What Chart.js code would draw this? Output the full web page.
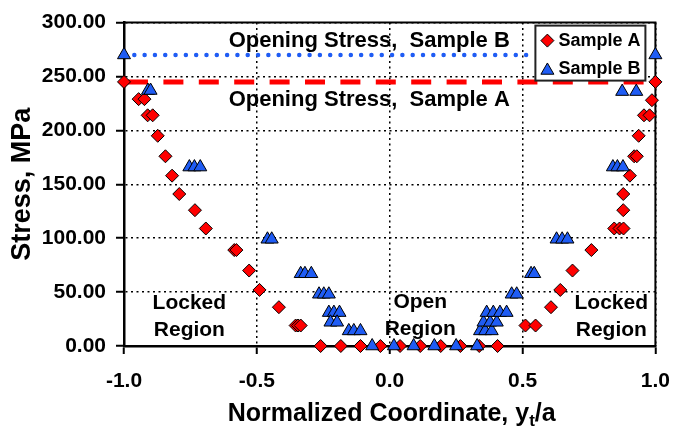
<!DOCTYPE html>
<html>
<head>
<meta charset="utf-8">
<script src="https://cdn.jsdelivr.net/npm/chart.js@4.4.1/dist/chart.umd.min.js"></script>
<style>
html,body{margin:0;padding:0;background:#fff;}
#wrap{width:685px;height:433px;}
</style>
</head>
<body>
<div id="wrap"><canvas id="c" width="685" height="433"></canvas></div>
<script>
// ---------- data ----------
const sampleAx = [-1.0, -0.945, -0.923, -0.911, -0.892, -0.873, -0.844, -0.819, -0.792, -0.733, -0.692,
  -0.585, -0.577, -0.529, -0.49, -0.417, -0.354, -0.345, -0.335,
  -0.26, -0.184, -0.11, -0.035, 0.039, 0.115, 0.192, 0.266, 0.337, 0.406,
  0.511, 0.549, 0.607, 0.642, 0.688, 0.759, 0.845, 0.865, 0.88, 0.879, 0.879, 0.904,
  0.92, 0.93, 0.937, 0.957, 0.978, 0.987, 1.0];
const sampleAy = [245, 229, 229, 214, 214, 195, 176, 158, 141, 126, 109,
  89, 89, 70, 52, 36, 19, 19, 19,
  0, 0, 0, 0, 0, 0, 0, 0, 0, 0,
  19, 19, 36, 52, 70, 89, 109, 109, 109, 126, 141, 158,
  176, 176, 195, 214, 214, 228, 245];

const sampleBx = [-1.0, -0.91, -0.9, -0.754, -0.735, -0.713, -0.46, -0.444,
  -0.335, -0.319, -0.295, -0.266, -0.248, -0.229, -0.229, -0.21, -0.189,
  -0.223, -0.198, -0.154, -0.135, -0.11,
  -0.066, 0.016, 0.09, 0.168, 0.25, 0.329,
  0.34, 0.359, 0.384, 0.353, 0.378, 0.403, 0.365, 0.39, 0.415, 0.44,
  0.459, 0.478, 0.532, 0.544, 0.628, 0.649, 0.669, 0.84, 0.857, 0.878,
  0.875, 0.928, 1.0];
const sampleBy = [270, 237, 237, 166, 166, 166, 99, 99,
  67, 67, 67, 48, 48, 48, 31, 31, 31,
  22, 22, 14, 14, 14,
  0, 0, 0, 0, 0, 0,
  14, 14, 14, 22, 22, 22, 31, 31, 31, 31,
  48, 48, 67, 67, 99, 99, 99, 166, 166, 166,
  236, 236, 270];

const openingStressA = 245;     // MPa
const openingStressB = 270;     // MPa
const openingLineAx = [-1.0, 1.0];
const openingLineBx = [-1.0, 0.54];

const xTickValues = [-1.0, -0.5, 0.0, 0.5, 1.0];
const yTickValues = [0, 50, 100, 150, 200, 250, 300];

const annotationTexts = ['Opening Stress,  Sample B', 'Opening Stress,  Sample A',
  'Locked', 'Region', 'Open', 'Region', 'Locked', 'Region'];
const annotationX = [-0.077, -0.077, -0.754, -0.754, 0.115, 0.115, 0.834, 0.834];
const annotationY = [282.8, 228.2, 39.5, 15.1, 41, 16, 39.5, 15.1];

// ---------- styling ----------
const RED = '#ff0000';
const BLUE = '#1f5cf4';
const FONT = '"Liberation Sans", Arial, Helvetica, sans-serif';

const pts = (xs, ys) => xs.map((x, i) => ({ x: x, y: ys[i] }));

function drawMarker(ctx, style, x, y, r, color) {
  ctx.save();
  ctx.beginPath();
  if (style === 'rectRot') {
    ctx.moveTo(x - r, y); ctx.lineTo(x, y - r); ctx.lineTo(x + r, y); ctx.lineTo(x, y + r);
  } else {
    const cy = y + r / 4;
    const dx = Math.cos(Math.PI / 6) * r;
    ctx.moveTo(x, cy - r); ctx.lineTo(x + dx, cy + r / 2); ctx.lineTo(x - dx, cy + r / 2);
  }
  ctx.closePath();
  ctx.fillStyle = color; ctx.fill();
  ctx.lineWidth = 1; ctx.strokeStyle = '#000'; ctx.stroke();
  ctx.restore();
}

const framePlugin = {
  id: 'frame',
  beforeDatasetsDraw(chart) {
    const { ctx, chartArea: a } = chart;
    ctx.save();
    ctx.strokeStyle = '#000';
    ctx.lineWidth = 2;
    ctx.beginPath();
    ctx.moveTo(a.left, a.top);
    ctx.lineTo(a.right, a.top);
    ctx.lineTo(a.right, a.bottom);
    ctx.stroke();
    ctx.restore();
  }
};

const annotationPlugin = {
  id: 'notes',
  afterDatasetsDraw(chart) {
    const { ctx, scales } = chart;
    ctx.save();
    ctx.fillStyle = '#000';
    ctx.textAlign = 'center';
    ctx.textBaseline = 'middle';
    annotationTexts.forEach((t, i) => {
      ctx.font = (i < 2 ? 'bold 22px ' : 'bold 21px ') + FONT;
      ctx.fillText(t, scales.x.getPixelForValue(annotationX[i]), scales.y.getPixelForValue(annotationY[i]));
    });
    ctx.restore();
  }
};

const legendPlugin = {
  id: 'boxLegend',
  afterDraw(chart) {
    const { ctx, chartArea: a } = chart;
    const bw = 110, bh = 55;
    const bx = a.right - 120, by = a.top + 3;
    ctx.save();
    ctx.fillStyle = '#fff';
    ctx.fillRect(bx, by, bw, bh);
    ctx.lineWidth = 2;
    ctx.strokeStyle = '#222';
    ctx.strokeRect(bx, by, bw, bh);
    const items = chart.data.datasets.filter(d => d.inLegend);
    items.sort((p, q) => p.legendRank - q.legendRank);
    items.forEach((d, i) => {
      const cy = by + 15 + i * 28;
      drawMarker(ctx, d.pointStyle, bx + 12, cy, d.pointRadius, d.pointBackgroundColor);
      ctx.fillStyle = '#000';
      ctx.font = 'bold 18px ' + FONT;
      ctx.textAlign = 'left';
      ctx.textBaseline = 'middle';
      ctx.fillText(d.label, bx + 23, cy);
    });
    ctx.restore();
  }
};

const xTitlePlugin = {
  id: 'xTitle',
  afterDraw(chart) {
    const { ctx, chartArea: a } = chart;
    const main = 'Normalized Coordinate, y', sub = 't', tail = '/a';
    const big = 'bold 25px ' + FONT, small = 'bold 17px ' + FONT;
    ctx.save();
    ctx.fillStyle = '#000';
    ctx.textBaseline = 'alphabetic';
    ctx.textAlign = 'left';
    ctx.font = big; const w1 = ctx.measureText(main).width; const w3 = ctx.measureText(tail).width;
    ctx.font = small; const w2 = ctx.measureText(sub).width;
    let x = (a.left + a.right) / 2 + 2 - (w1 + w2 + w3) / 2;
    const base = chart.height - 12;
    ctx.font = big; ctx.fillText(main, x, base); x += w1;
    ctx.font = small; ctx.fillText(sub, x, base + 5); x += w2;
    ctx.font = big; ctx.fillText(tail, x, base);
    ctx.restore();
  }
};

const tickFont = { family: FONT, size: 21, weight: 'bold' };

new Chart(document.getElementById('c'), {
  type: 'scatter',
  data: {
    datasets: [
      {
        label: 'Sample B', data: pts(sampleBx, sampleBy), inLegend: true, legendRank: 2,
        pointStyle: 'triangle', pointRadius: 7.5, pointHoverRadius: 7.5,
        pointBackgroundColor: BLUE, backgroundColor: BLUE,
        pointBorderColor: '#000', borderColor: '#000', pointBorderWidth: 1,
        order: 1, clip: false
      },
      {
        label: 'Sample A', data: pts(sampleAx, sampleAy), inLegend: true, legendRank: 1,
        pointStyle: 'rectRot', pointRadius: 6.5, pointHoverRadius: 6.5,
        pointBackgroundColor: RED, backgroundColor: RED,
        pointBorderColor: '#000', borderColor: '#000', pointBorderWidth: 1,
        order: 2, clip: false
      },
      {
        label: 'Opening Stress, Sample B', data: pts(openingLineBx, openingLineBx.map(() => openingStressB)),
        showLine: true, pointRadius: 0, borderColor: BLUE, borderWidth: 4.5,
        borderDash: [0.01, 10.3], borderCapStyle: 'round', order: 5, clip: false
      },
      {
        label: 'Opening Stress, Sample A', data: pts(openingLineAx, openingLineAx.map(() => openingStressA)),
        showLine: true, pointRadius: 0, borderColor: RED, borderWidth: 5,
        borderDash: [20, 15.4], borderDashOffset: 31.4, borderCapStyle: 'butt', order: 6, clip: false
      }
    ]
  },
  options: {
    responsive: false,
    animation: false,
    devicePixelRatio: 1,
    layout: { padding: { top: 16, right: 28, left: 0, bottom: 0 } },
    plugins: { legend: { display: false }, tooltip: { enabled: false } },
    scales: {
      x: {
        type: 'linear', min: -1, max: 1,
        afterBuildTicks: s => { s.ticks = xTickValues.map(v => ({ value: v })); },
        afterFit: s => { s.height = 87; },
        ticks: { callback: v => Number(v).toFixed(1), font: tickFont, color: '#000', padding: 15, maxRotation: 0, autoSkip: false },
        grid: { color: '#000', lineWidth: 1.5, tickLength: 8, tickColor: '#000', tickWidth: 2 },
        border: { display: true, color: '#000', width: 2.5, dash: [2, 3.5] },
        title: { display: false }
      },
      y: {
        type: 'linear', min: 0, max: 300,
        afterBuildTicks: s => { s.ticks = yTickValues.map(v => ({ value: v })); },
        afterFit: s => { s.width = 124; },
        ticks: { callback: v => Number(v).toFixed(2), font: tickFont, color: '#000', padding: 10, autoSkip: false },
        grid: { color: '#000', lineWidth: 1.5, tickLength: 8, tickColor: '#000', tickWidth: 2 },
        border: { display: true, color: '#000', width: 2.5, dash: [2, 3.5] },
        title: { display: true, text: 'Stress, MPa', color: '#000', font: { family: FONT, size: 27, weight: 'bold' }, padding: { top: 6, bottom: 0 } }
      }
    }
  },
  plugins: [framePlugin, annotationPlugin, legendPlugin, xTitlePlugin]
});
</script>
</body>
</html>
